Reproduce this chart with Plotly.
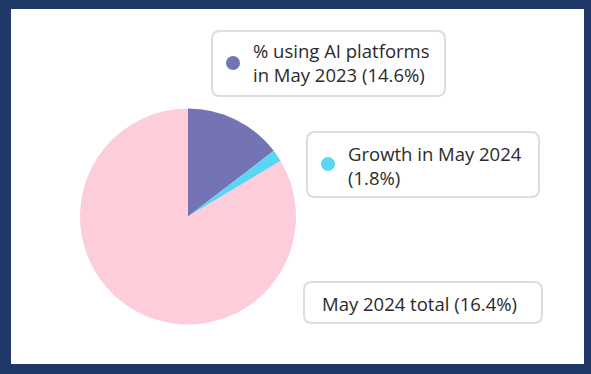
import plotly.graph_objects as go

labels = ["% using AI platforms in May 2023", "Growth in May 2024", "Not using AI platforms"]
values = [14.6, 1.8, 83.6]
colors = ["#7474b4", "#5ad6f2", "#fdcdd9"]

box_texts = ["% using AI platforms<br>in May 2023 (14.6%)", "Growth in May 2024<br>(1.8%)", "May 2024 total (16.4%)"]

W, H = 591, 374
fig = go.Figure()
fig.add_trace(go.Pie(
    labels=labels, values=values, sort=False, direction="clockwise", rotation=0,
    marker=dict(colors=colors, line=dict(width=0)), textinfo="none", hoverinfo="label+percent",
    domain=dict(x=[80 / W, 296 / W], y=[1 - 325 / H, 1 - 108 / H]), showlegend=False,
))
# invisible pixel axes for overlays
fig.add_trace(go.Scatter(x=[0, W], y=[0, H], mode="markers", marker=dict(opacity=0), hoverinfo="skip", showlegend=False))


def rrect(x0, y0, x1, y1, r):
    return (f"M {x0+r},{y0} L {x1-r},{y0} Q {x1},{y0} {x1},{y0+r} L {x1},{y1-r} Q {x1},{y1} {x1-r},{y1} "
            f"L {x0+r},{y1} Q {x0},{y1} {x0},{y1-r} L {x0},{y0+r} Q {x0},{y0} {x0+r},{y0} Z")


shapes = [dict(type="rect", xref="x", yref="y", x0=11, y0=9, x1=584, y1=364, fillcolor="white", line=dict(width=0), layer="below")]
boxes = [(212, 31, 445, 96), (307, 132, 539, 197), (304, 282, 542, 323)]
for b in boxes:
    shapes.append(dict(type="path", xref="x", yref="y", path=rrect(*b, 8), fillcolor="white",
                       line=dict(color="#dcdbe8", width=2), layer="above"))
dots = [(233, 63, colors[0]), (328, 164, colors[1])]
for cx, cy, c in dots:
    shapes.append(dict(type="circle", xref="x", yref="y", x0=cx - 7, x1=cx + 7, y0=cy - 7, y1=cy + 7,
                       fillcolor=c, line=dict(width=0), layer="above"))

font = dict(family="Open Sans", size=18.5, color="#2b2b2b")
anns = [
    dict(x=251, y=62, text=box_texts[0]),
    dict(x=346, y=165, text=box_texts[1]),
    dict(x=320, y=303, text=box_texts[2]),
]
annotations = [dict(xref="x", yref="y", xanchor="left", yanchor="middle", align="left", showarrow=False, font=font, **a) for a in anns]

fig.update_layout(
    width=W, height=H, margin=dict(l=0, r=0, t=0, b=0),
    paper_bgcolor="#1f3867", plot_bgcolor="rgba(0,0,0,0)",
    xaxis=dict(range=[0, W], visible=False, fixedrange=True),
    yaxis=dict(range=[H, 0], visible=False, fixedrange=True),
    shapes=shapes, annotations=annotations, showlegend=False,
)
fig.write_html("out.html", config=dict(displayModeBar=False),
               post_script="document.body.style.margin='0';document.body.style.overflow='hidden';")
